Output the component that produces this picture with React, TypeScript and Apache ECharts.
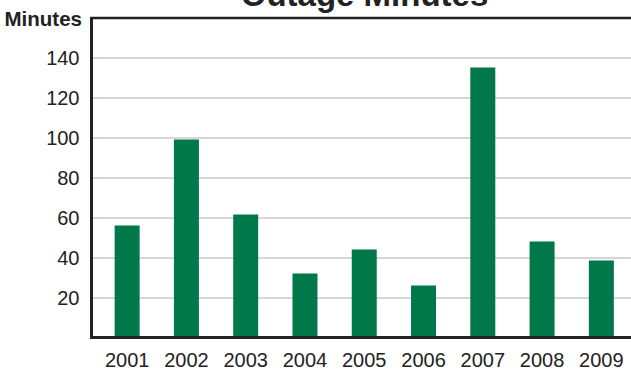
import React, { useEffect, useRef } from "react";
import * as echarts from "echarts";

const years = ["2001", "2002", "2003", "2004", "2005", "2006", "2007", "2008", "2009"];
const outageMinutes = [56, 99, 61.5, 32, 44, 26, 135, 48, 38.5];
const yTicks = [20, 40, 60, 80, 100, 120, 140];

const FONT = "'Liberation Sans', Arial, Helvetica, sans-serif";
const GREEN = "#00784a";
const FRAME = "#222222";
const GRIDC = "#c9c9c9";

export default function App() {
  const ref = useRef<HTMLDivElement>(null);
  useEffect(() => {
    if (!ref.current) return;
    const chart = echarts.init(ref.current, null, { renderer: "svg" });
    chart.setOption({
      animation: false,
      backgroundColor: "#ffffff",
      title: {
        text: "Outage Minutes",
        left: 364.5,
        textAlign: "center",
        top: -22,
        padding: 0,
        textStyle: { fontFamily: FONT, fontWeight: "bold", fontSize: 33, color: FRAME },
      },
      grid: { left: 97.5, top: 17.5, width: 540, height: 320 },
      xAxis: {
        type: "category",
        data: years,
        axisLine: { show: false },
        axisTick: { show: false },
        axisLabel: { interval: 0, fontFamily: FONT, fontSize: 20, color: FRAME, margin: 12 },
      },
      yAxis: {
        type: "value",
        min: 0,
        max: 160,
        interval: 20,
        offset: 6,
        axisLine: { show: false },
        axisTick: { show: true, inside: true, length: 7, lineStyle: { color: GRIDC, width: 1.5 } },
        splitLine: { lineStyle: { color: GRIDC, width: 1.5 } },
        axisLabel: {
          fontFamily: FONT,
          fontSize: 20,
          color: FRAME,
          margin: 12,
          formatter: (v: number) => (yTicks.indexOf(v) >= 0 ? String(v) : ""),
        },
      },
      series: [
        {
          type: "bar",
          data: outageMinutes,
          barWidth: 25,
          itemStyle: { color: GREEN },
        },
      ],
      graphic: [
        {
          type: "text",
          silent: true,
          x: 82,
          y: 18.5,
          style: {
            text: "Minutes",
            fontFamily: FONT,
            fontWeight: "bold",
            fontSize: 20.5,
            fill: FRAME,
            textAlign: "right",
            textVerticalAlign: "middle",
          },
        },
        {
          type: "polyline",
          silent: true,
          z: 100,
          shape: { points: [[91.5, 17], [91.5, 337.5], [631, 337.5]] },
          style: { stroke: FRAME, lineWidth: 3, fill: null },
        },
        {
          type: "line",
          silent: true,
          z: 100,
          shape: { x1: 90, y1: 18, x2: 631, y2: 18 },
          style: { stroke: FRAME, lineWidth: 2.5 },
        },
      ],
    });
    return () => chart.dispose();
  }, []);
  return <div ref={ref} style={{ width: 631, height: 370, position: "absolute", left: 0, top: 0 }} />;
}
